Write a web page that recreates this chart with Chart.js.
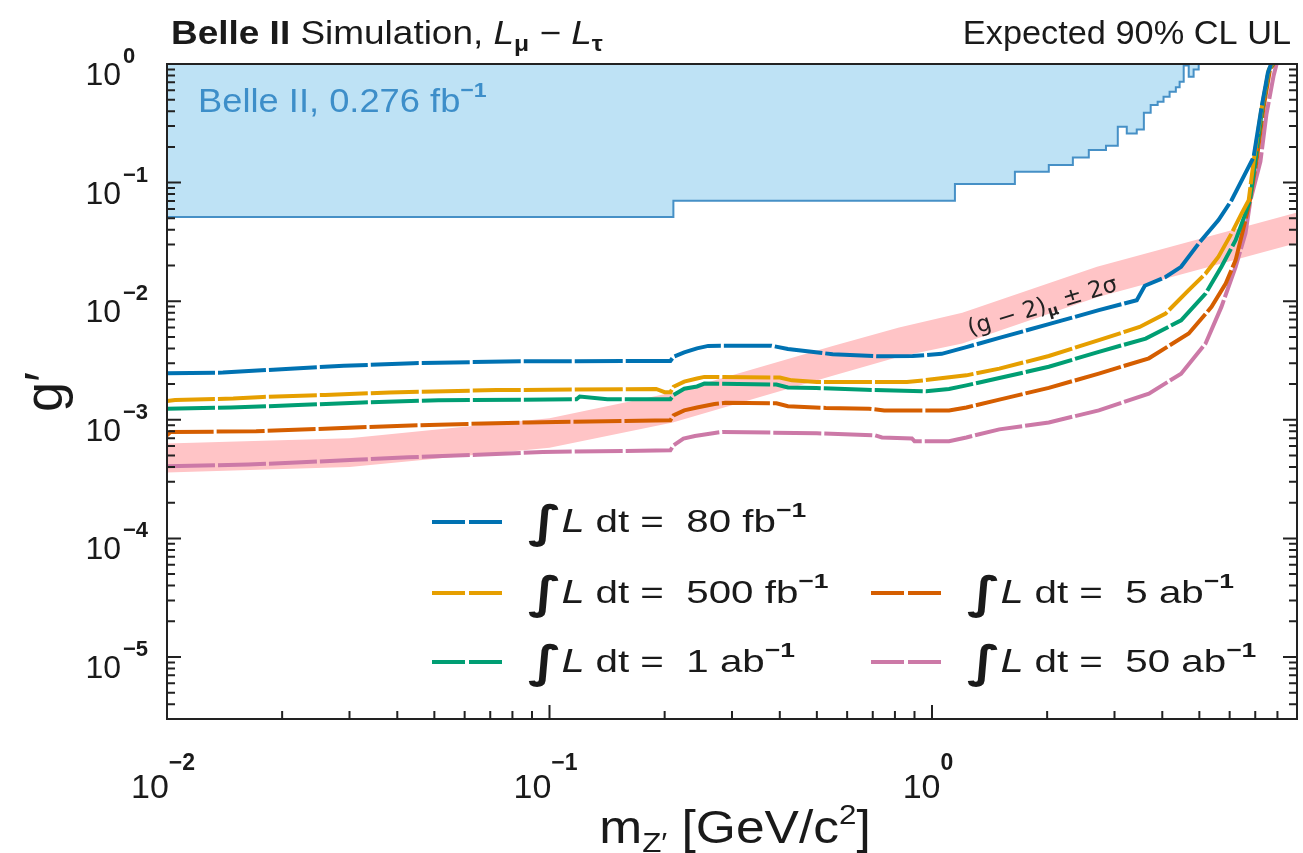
<!DOCTYPE html>
<html>
<head>
<meta charset="utf-8">
<title>Belle II Simulation, L_mu - L_tau expected 90% CL UL</title>
<script src="https://cdn.jsdelivr.net/npm/chart.js@4.4.1/dist/chart.umd.min.js"></script>
<style>
  body { margin: 0; background: #fff; }
  canvas { display: block; }
</style>
</head>
<body>
<canvas id="chart" width="1303" height="853"></canvas>
<script>
// ---- values (mass in GeV/c^2, coupling g') ----
const massBlue = [0.01, 0.014, 0.021, 0.029, 0.044, 0.085, 0.207, 0.211, 0.225, 0.243, 0.26, 0.38, 0.42, 0.55, 0.73, 0.89, 1.06, 1.23, 1.5, 2.02, 2.73, 3.43, 3.6, 4.08, 4.48, 4.98, 5.61, 6.07, 6.93, 7.27, 7.55, 7.7];
const g80fb = [2.47e-3, 2.5e-3, 2.7e-3, 2.85e-3, 3.0e-3, 3.12e-3, 3.13e-3, 3.4e-3, 3.7e-3, 4.0e-3, 4.2e-3, 4.22e-3, 3.95e-3, 3.57e-3, 3.43e-3, 3.45e-3, 3.6e-3, 4.1e-3, 4.9e-3, 6.4e-3, 8.4e-3, 1.02e-2, 1.35e-2, 1.6e-2, 1.95e-2, 3.07e-2, 4.83e-2, 7.1e-2, 0.164, 0.43, 0.84, 1.0];

const massOrange = [0.01, 0.0105, 0.0149, 0.0178, 0.0259, 0.0382, 0.0727, 0.19, 0.2, 0.207, 0.211, 0.225, 0.243, 0.254, 0.4, 0.43, 0.5, 0.86, 0.95, 1.23, 1.5, 2.02, 2.73, 3.49, 4.08, 4.69, 5.19, 5.61, 6.07, 6.45, 6.73, 6.93, 7.27, 7.6, 7.75];
const g500fb = [1.44e-3, 1.47e-3, 1.51e-3, 1.56e-3, 1.62e-3, 1.7e-3, 1.78e-3, 1.82e-3, 1.71e-3, 1.71e-3, 1.9e-3, 2.1e-3, 2.23e-3, 2.3e-3, 2.27e-3, 2.15e-3, 2.08e-3, 2.08e-3, 2.15e-3, 2.37e-3, 2.7e-3, 3.45e-3, 4.69e-3, 6.07e-3, 7.87e-3, 1.24e-2, 1.71e-2, 2.37e-2, 3.73e-2, 5.5e-2, 7.1e-2, 0.15, 0.42, 0.9, 1.0];

const massGreen = [0.01, 0.0147, 0.022, 0.0325, 0.0512, 0.1176, 0.12, 0.1417, 0.207, 0.211, 0.225, 0.243, 0.254, 0.392, 0.42, 0.498, 0.672, 0.965, 1.108, 1.23, 1.5, 2.02, 2.73, 3.62, 4.48, 5.19, 5.71, 6.22, 6.6, 6.78, 7.0, 7.3, 7.6, 7.78];
const g1ab = [1.24e-3, 1.27e-3, 1.33e-3, 1.4e-3, 1.46e-3, 1.49e-3, 1.57e-3, 1.49e-3, 1.49e-3, 1.62e-3, 1.83e-3, 1.91e-3, 2.02e-3, 1.98e-3, 1.87e-3, 1.85e-3, 1.79e-3, 1.74e-3, 1.82e-3, 1.95e-3, 2.25e-3, 2.8e-3, 3.74e-3, 4.84e-3, 6.9e-3, 1.16e-2, 1.95e-2, 3.27e-2, 5.5e-2, 7.1e-2, 0.15, 0.42, 0.9, 1.0];

const massRed = [0.01, 0.0102, 0.0171, 0.0235, 0.0333, 0.0513, 0.0881, 0.207, 0.211, 0.225, 0.243, 0.27, 0.288, 0.392, 0.42, 0.528, 0.685, 0.75, 1.108, 1.23, 1.5, 2.02, 2.73, 3.69, 4.69, 5.38, 5.86, 6.22, 6.6, 6.78, 7.05, 7.35, 7.65, 7.82];
const g5ab = [7.4e-4, 7.89e-4, 8.0e-4, 8.32e-4, 8.7e-4, 9.1e-4, 9.5e-4, 9.9e-4, 1.09e-3, 1.2e-3, 1.27e-3, 1.36e-3, 1.39e-3, 1.38e-3, 1.3e-3, 1.26e-3, 1.24e-3, 1.2e-3, 1.2e-3, 1.27e-3, 1.48e-3, 1.86e-3, 2.45e-3, 3.3e-3, 5.34e-3, 8.95e-3, 1.41e-2, 2.22e-2, 4.83e-2, 7.1e-2, 0.15, 0.42, 0.9, 1.0];

const massPink = [0.01, 0.0163, 0.0225, 0.031, 0.0428, 0.0649, 0.096, 0.207, 0.211, 0.224, 0.24, 0.27, 0.283, 0.5, 0.71, 0.74, 0.886, 0.9, 1.108, 1.23, 1.5, 2.02, 2.73, 3.69, 4.48, 5.19, 5.71, 6.22, 6.6, 6.8, 7.22, 7.49, 7.82, 7.96];
const g50ab = [4.05e-4, 4.2e-4, 4.38e-4, 4.6e-4, 4.83e-4, 5.07e-4, 5.35e-4, 5.53e-4, 6.1e-4, 6.94e-4, 7.3e-4, 7.75e-4, 7.9e-4, 7.7e-4, 7.4e-4, 7.1e-4, 6.96e-4, 6.6e-4, 6.6e-4, 7.1e-4, 8.3e-4, 9.5e-4, 1.2e-3, 1.66e-3, 2.45e-3, 4.4e-3, 8.95e-3, 1.95e-2, 3.73e-2, 7.1e-2, 0.15, 0.38, 0.8, 1.0];

// (g-2)_mu +- 2 sigma band
const bandMass = [0.01, 0.03, 0.1, 0.21, 0.55, 0.82, 1.2, 2.7, 9.0];
const bandHigh = [6.3e-4, 7.0e-4, 1.03e-3, 1.7e-3, 4.2e-3, 6.0e-3, 8.0e-3, 1.95e-2, 5.6e-2];
const bandLow = [3.6e-4, 4.0e-4, 5.8e-4, 9.5e-4, 2.35e-3, 3.4e-3, 4.4e-3, 1.08e-2, 3.1e-2];

// Belle II 0.276 fb-1 excluded region (lower edge, step starts)
const regionMass = [0.01, 0.2108, 1.148, 1.647, 2.02, 2.335, 2.57, 2.85, 3.06, 3.23, 3.43, 3.58, 3.73, 3.89, 4.03, 4.18, 4.34, 4.44, 4.55, 4.69, 4.83, 4.98];
const regionLimit = [0.0514, 0.0702, 0.0971, 0.1234, 0.1406, 0.163, 0.188, 0.2046, 0.296, 0.26, 0.281, 0.388, 0.451, 0.481, 0.53, 0.584, 0.636, 0.709, 0.97, 0.78, 0.9, 1.0];

// legend texts and tick labels
const lumiValues = ['80 fb', '500 fb', '1 ab', '5 ab', '50 ab'];
const xTickExps = [-2, -1, 0];
const yTickExps = [0, -1, -2, -3, -4, -5];

const xMin = 0.01, xMax = 9, yMin = 3e-6, yMax = 1;

const SANS = '"Liberation Sans", Arial, sans-serif';
const MATH = '"DejaVu Sans", sans-serif';
const colors = ['#0072b2', '#e69f00', '#009e73', '#d55e00', '#cc79a7'];

function pts(xs, ys) {
    return xs.map((x, i) => ({ x: x, y: ys[i] }));
}

function lineSet(label, xs, ys, color) {
    return {
        label: label,
        data: pts(xs, ys),
        borderColor: color,
        borderWidth: 4,
        borderDash: [48, 3],
        pointRadius: 0,
        fill: false,
        tension: 0,
        order: 1
    };
}

// draw a run of text pieces (super/subscripts via dy), optional horizontal stretch
function drawRuns(ctx, x, y, runs, align, sx) {
    let total = 0;
    for (const r of runs) {
        ctx.font = r.font;
        r.w = ctx.measureText(r.text).width;
        total += r.w;
    }
    ctx.save();
    ctx.translate(x, y);
    ctx.scale(sx || 1, 1);
    let cx = align === 'right' ? -total : (align === 'center' ? -total / 2 : 0);
    ctx.textAlign = 'left';
    ctx.textBaseline = 'alphabetic';
    for (const r of runs) {
        ctx.font = r.font;
        ctx.fillStyle = r.color || '#1a1a1a';
        ctx.fillText(r.text, cx, r.dy || 0);
        cx += r.w;
    }
    ctx.restore();
}

function expText(e) {
    return e === 0 ? '0' : '\u2212' + Math.abs(e);
}

const decorations = {
    id: 'decorations',
    afterDraw(chart) {
        const ctx = chart.ctx;
        const xs = chart.scales.x, ys = chart.scales.y;
        const a = chart.chartArea;
        ctx.save();

        // frame
        ctx.strokeStyle = '#222';
        ctx.lineWidth = 2;
        ctx.setLineDash([]);
        ctx.strokeRect(a.left, a.top, a.right - a.left, a.bottom - a.top);

        // inward ticks
        ctx.beginPath();
        for (let k = -6; k <= 1; k++) {
            for (let m = 1; m <= 9; m++) {
                const v = m * Math.pow(10, k);
                const len = m === 1 ? 14 : 8;
                if (v >= yMin && v <= yMax) {
                    const py = ys.getPixelForValue(v);
                    ctx.moveTo(a.left, py); ctx.lineTo(a.left + len, py);
                    ctx.moveTo(a.right, py); ctx.lineTo(a.right - len, py);
                }
                if (v >= xMin && v <= xMax) {
                    const px = xs.getPixelForValue(v);
                    ctx.moveTo(px, a.bottom); ctx.lineTo(px, a.bottom - len);
                }
            }
        }
        ctx.stroke();

        // tick labels
        for (const e of yTickExps) {
            const py = ys.getPixelForValue(Math.pow(10, e));
            drawRuns(ctx, a.left - 46, py + 21, [{ text: '10', font: '32px ' + SANS }], 'right');
            drawRuns(ctx, a.left - 44, py - 1, [{ text: expText(e), font: 'bold 22px ' + SANS }], 'left');
        }
        for (const e of xTickExps) {
            const px = xs.getPixelForValue(Math.pow(10, e));
            drawRuns(ctx, px - 4, 798, [
                { text: '10', font: '34px ' + SANS },
                { text: expText(e), font: 'bold 23px ' + SANS, dy: -28 }
            ], 'center');
        }

        // axis titles
        drawRuns(ctx, 735, 843, [
            { text: 'm', font: '46px ' + SANS },
            { text: 'Z\u2032', font: '28px ' + SANS, dy: 9 },
            { text: ' [GeV/c', font: '46px ' + SANS },
            { text: '2', font: '28px ' + SANS, dy: -19 },
            { text: ']', font: '46px ' + SANS }
        ], 'center', 1.12);
        ctx.save();
        ctx.translate(62, 392);
        ctx.rotate(-Math.PI / 2);
        drawRuns(ctx, 0, 0, [{ text: 'g\u2032', font: '54px ' + SANS }], 'center');
        ctx.restore();

        // top titles
        drawRuns(ctx, 171, 44, [
            { text: 'Belle II', font: 'bold 33px ' + SANS },
            { text: ' Simulation, ', font: '33px ' + SANS },
            { text: 'L', font: 'italic 33px ' + SANS },
            { text: '\u03bc', font: 'bold 22px ' + SANS, dy: 7 },
            { text: ' \u2212 ', font: '33px ' + SANS },
            { text: 'L', font: 'italic 33px ' + SANS },
            { text: '\u03c4', font: 'bold 22px ' + SANS, dy: 7 }
        ], 'left', 1.12);
        drawRuns(ctx, 1291, 44, [{ text: 'Expected 90% CL UL', font: '33px ' + SANS }], 'right', 1.04);

        // excluded region label
        drawRuns(ctx, 198, 112, [
            { text: 'Belle II, 0.276 fb', font: '33px ' + SANS, color: '#3d8ec9' },
            { text: '\u22121', font: 'bold 21px ' + SANS, dy: -15, color: '#3d8ec9' }
        ], 'left', 1.1);

        // band label
        ctx.save();
        ctx.translate(xs.getPixelForValue(1.94), ys.getPixelForValue(9.25e-3));
        ctx.rotate(-17 * Math.PI / 180);
        drawRuns(ctx, 0, 8, [
            { text: '(g \u2212 2)', font: '23px ' + MATH, color: '#222' },
            { text: '\u03bc', font: 'bold 15px ' + MATH, dy: 5, color: '#222' },
            { text: ' \u00b1 2\u03c3', font: '23px ' + MATH, color: '#222' }
        ], 'center');
        ctx.restore();

        // legend (two columns, first column has three rows)
        const slots = [[432, 522, 532], [432, 593, 603], [432, 662, 672], [871, 593, 603], [871, 662, 672]];
        slots.forEach((s, i) => {
            ctx.save();
            ctx.strokeStyle = colors[i];
            ctx.lineWidth = 4;
            ctx.setLineDash([33, 4]);
            ctx.beginPath();
            ctx.moveTo(s[0], s[1]);
            ctx.lineTo(s[0] + 71, s[1]);
            ctx.stroke();
            ctx.restore();
            drawRuns(ctx, s[0] + 96, s[2], [
                { text: '\u222b', font: 'bold 44px ' + MATH, dy: 5 },
                { text: 'L', font: 'oblique 32px ' + MATH },
                { text: ' dt =  ' + lumiValues[i], font: '32px ' + SANS },
                { text: '\u22121', font: 'bold 21px ' + SANS, dy: -15 }
            ], 'left', 1.26);
        });

        ctx.restore();
    }
};

new Chart(document.getElementById('chart'), {
    type: 'line',
    data: {
        datasets: [
            {
                label: 'Belle II, 0.276 fb-1',
                data: pts(regionMass, regionLimit),
                stepped: 'before',
                borderColor: '#4690c6',
                borderWidth: 2,
                backgroundColor: '#bee2f5',
                fill: 'end',
                pointRadius: 0,
                order: 3
            },
            {
                label: '(g-2) upper',
                data: pts(bandMass, bandHigh),
                borderColor: 'rgba(0,0,0,0)',
                borderWidth: 1,
                backgroundColor: '#ffc4c6',
                fill: '+1',
                pointRadius: 0,
                order: 2
            },
            {
                label: '(g-2) lower',
                data: pts(bandMass, bandLow),
                borderColor: 'rgba(0,0,0,0)',
                borderWidth: 1,
                fill: false,
                pointRadius: 0,
                order: 2
            },
            lineSet('80 fb-1', massBlue, g80fb, colors[0]),
            lineSet('500 fb-1', massOrange, g500fb, colors[1]),
            lineSet('1 ab-1', massGreen, g1ab, colors[2]),
            lineSet('5 ab-1', massRed, g5ab, colors[3]),
            lineSet('50 ab-1', massPink, g50ab, colors[4])
        ]
    },
    options: {
        responsive: false,
        devicePixelRatio: 1,
        animation: false,
        layout: { padding: { top: 64, right: 6, left: 0, bottom: 0 } },
        plugins: {
            legend: { display: false },
            tooltip: { enabled: false }
        },
        scales: {
            x: {
                type: 'logarithmic',
                min: xMin,
                max: xMax,
                grid: { display: false },
                border: { display: false },
                ticks: { display: false },
                afterFit(scale) { scale.height = 134; }
            },
            y: {
                type: 'logarithmic',
                min: yMin,
                max: yMax,
                grid: { display: false },
                border: { display: false },
                ticks: { display: false },
                afterFit(scale) { scale.width = 167; }
            }
        }
    },
    plugins: [decorations]
});
</script>
</body>
</html>
